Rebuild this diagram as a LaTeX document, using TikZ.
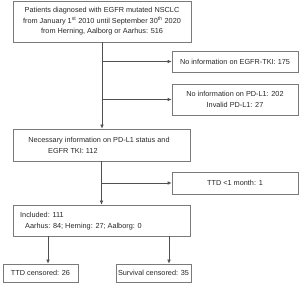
\documentclass[tikz,border=0pt]{standalone}
\usepackage{fontspec}
\setmainfont{Liberation Sans}
\usetikzlibrary{arrows.meta}
\definecolor{boxgray}{HTML}{7A7A7A}
\definecolor{linegray}{HTML}{505050}
\definecolor{textc}{HTML}{262626}
\begin{document}
\begin{tikzpicture}[x=1pt,y=-1pt,
  box/.style={draw=boxgray, line width=0.7pt, inner sep=0pt, align=center,
    text=textc, font=\fontsize{7.3}{10.6}\selectfont},
  txt/.style={inner sep=0pt, text=textc, font=\fontsize{7.3}{10.6}\selectfont},
  arr/.style={draw=linegray, line width=0.7pt, -{Latex[length=4pt,width=3.6pt]}}]
\useasboundingbox (0,0) rectangle (300,283);
\node[box, minimum width=178pt, minimum height=41pt] (b1) at (102,21.5)
  {Patients diagnosed with EGFR mutated NSCLC\\from January 1\textsuperscript{st} 2010 until September 30\textsuperscript{th} 2020\\from Herning, Aalborg or Aarhus: 516};
\node[box, minimum width=126pt, minimum height=21pt] (e) at (235,61.5) {No information on EGFR-TKI: 175};
\node[box, minimum width=126pt, minimum height=31pt] (p) at (235,99.5) {No information on PD-L1: 202\\Invalid PD-L1: 27};
\node[box, minimum width=177pt, minimum height=32pt] (b2) at (101.5,145) {};
\node[txt, anchor=base] (b2a) at (99,142.5) {Necessary information on PD-L1 status and};
\node[txt, anchor=base west] (b2b) at (48,153.3) {EGFR TKI: 112};
\node[box, minimum width=126pt, minimum height=22pt] (t) at (235,183) {TTD <1 month: 1};
\node[box, minimum width=177pt, minimum height=31pt] (b3) at (101.5,220.5) {};
\node[txt, anchor=base west] (b3a) at (20,217.5) {Included: 111};
\node[txt, anchor=base west] (b3b) at (25,228.6) {Aarhus: 84; Herning: 27; Aalborg: 0};
\node[box, minimum width=75pt, minimum height=18pt] (c1) at (40.5,273) {TTD censored: 26};
\node[box, minimum width=75pt, minimum height=18pt] (c2) at (153.5,273) {Survival censored: 35};
% connectors
\draw[arr] (b1.south) -- (b1.south |- b2.north);
\coordinate (j1) at (b1.south |- e.west);
\draw[arr] (j1) -- (e.west);
\coordinate (j2) at (b1.south |- p.west);
\draw[arr] (j2) -- (p.west);
\draw[arr] (b2.south) -- (b3.north);
\coordinate (j3) at (b2.south |- t.west);
\draw[arr] (j3) -- (t.west);
\path (b3.south) ++(-53.5,0) coordinate (d1);
\path (b3.south) ++(67.5,0) coordinate (d2);
\draw[arr] (d1) -- (d1 |- c1.north);
\draw[arr] (d2) -- (d2 |- c2.north);
\end{tikzpicture}
\end{document}
